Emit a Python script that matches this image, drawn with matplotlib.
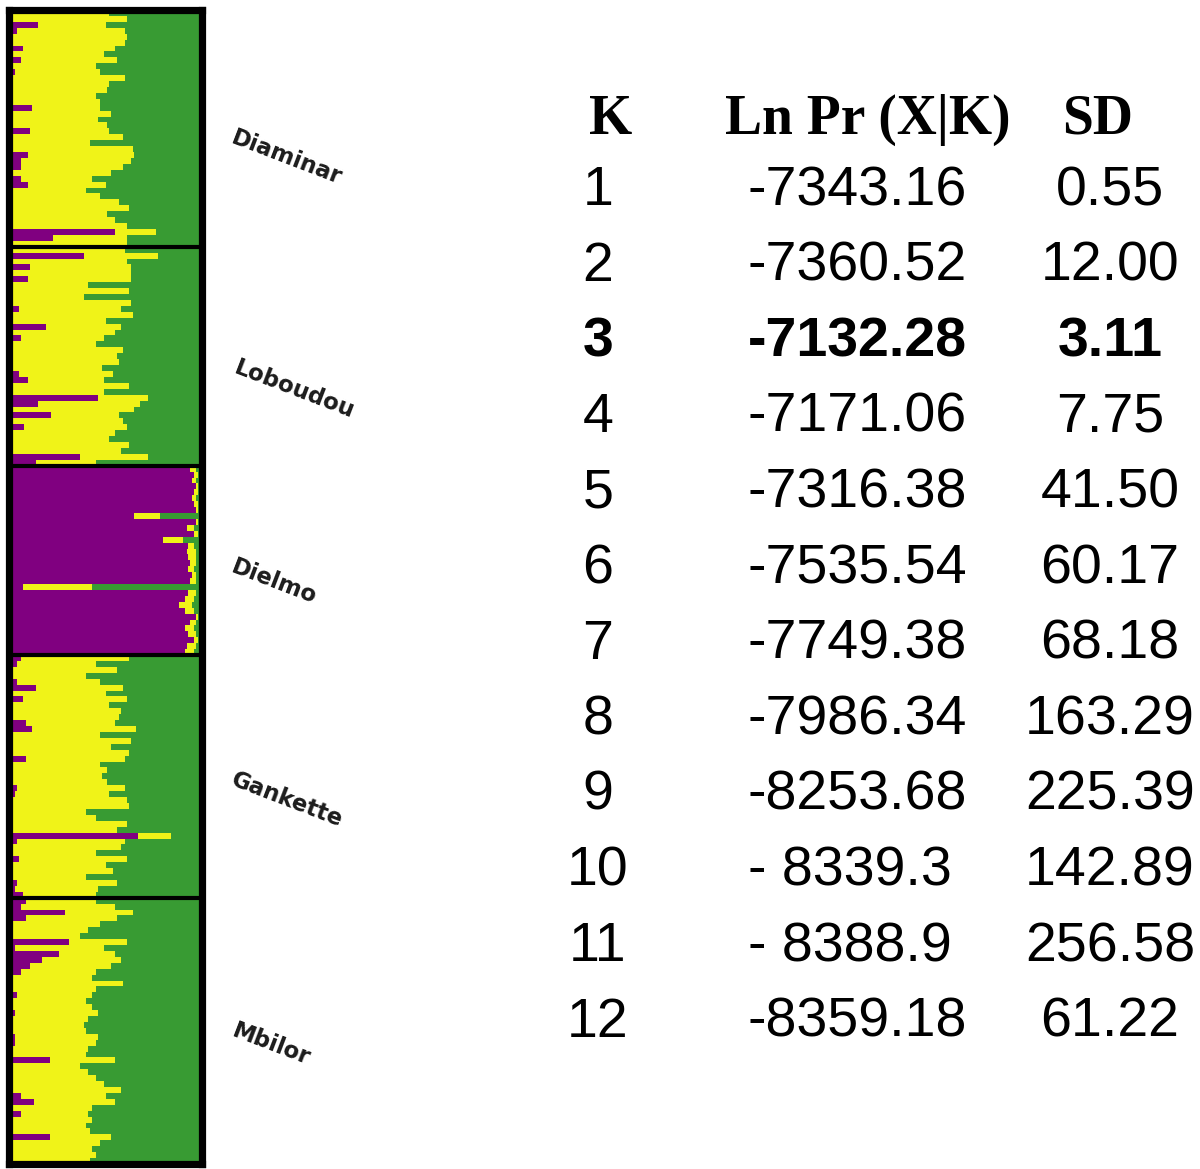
import matplotlib
matplotlib.use("Agg")
import matplotlib.pyplot as plt
import numpy as np

# ---------------- data ----------------
populations = ["Diaminar", "Loboudou", "Dielmo", "Gankette", "Mbilor"]

# membership (%) per individual: purple cluster, yellow cluster (green = remainder)
diaminar_purple = [0, 0, 15, 4, 1, 0, 7, 1, 6, 0, 3, 0, 0, 0, 0, 1, 12, 2, 2, 1,
                   11, 0, 0, 0, 10, 6, 6, 1, 6, 10, 0, 0, 0, 0, 2, 0, 0, 55, 23, 0]
diaminar_yellow = [52, 61, 35, 56, 60, 60, 48, 48, 50, 45, 44, 60, 52, 51, 45, 46, 35, 51, 44, 50,
                   41, 59, 42, 64, 55, 57, 53, 52, 37, 40, 40, 47, 57, 62, 49, 55, 61, 21, 38, 61]

loboudou_purple = [0, 39, 0, 11, 0, 10, 0, 0, 0, 0, 5, 1, 1, 19, 0, 6, 0, 0, 0, 0,
                   1, 5, 10, 1, 1, 46, 15, 0, 22, 0, 8, 1, 0, 1, 0, 37, 14]
loboudou_yellow = [60, 38, 61, 52, 63, 53, 41, 62, 39, 63, 53, 63, 49, 39, 55, 43, 45, 59, 56, 57,
                   47, 49, 39, 61, 48, 26, 53, 65, 35, 59, 53, 54, 52, 61, 58, 35, 31]

dielmo_purple = [94, 96, 95, 97, 96, 95, 96, 97, 65, 97, 92, 96, 80, 93, 92, 93, 94, 93, 95, 94,
                 7, 93, 91, 88, 91, 97, 94, 91, 93, 96, 92, 91]
dielmo_yellow = [3, 2, 2, 1, 2, 2, 2, 1, 13, 1, 4, 2, 10, 3, 5, 4, 3, 3, 2, 3,
                 36, 4, 5, 7, 5, 1, 3, 5, 4, 2, 5, 5]

gankette_purple = [6, 4, 1, 0, 4, 14, 1, 7, 0, 0, 0, 9, 12, 0, 2, 0, 1, 9, 0, 0,
                   0, 0, 4, 3, 1, 1, 0, 0, 0, 0, 67, 4, 2, 0, 5, 0, 2, 1, 4, 3, 7]
gankette_yellow = [56, 41, 55, 40, 43, 45, 49, 54, 52, 58, 57, 46, 54, 47, 61, 53, 61, 51, 47, 51,
                   48, 51, 56, 49, 60, 61, 40, 45, 61, 56, 17, 56, 56, 45, 56, 50, 52, 39, 52, 43, 38]

mbilor_purple = [9, 6, 29, 9, 0, 0, 0, 31, 3, 26, 17, 11, 6, 2, 0, 0, 4, 0, 0, 3,
                 0, 0, 0, 3, 3, 0, 0, 21, 0, 0, 0, 0, 0, 6, 13, 0, 6, 1, 1, 1, 21, 0, 1, 2, 2]
mbilor_yellow = [36, 49, 35, 47, 47, 41, 37, 30, 46, 29, 41, 42, 39, 41, 59, 45, 39, 40, 43, 43,
                 41, 39, 40, 43, 42, 41, 40, 34, 37, 41, 45, 49, 58, 44, 42, 43, 35, 42, 39, 41,
                 32, 47, 42, 43, 40]

# table
k_values = ["1", "2", "3", "4", "5", "6", "7", "8", "9", "10", "11", "12"]
ln_pr = ["-7343.16", "-7360.52", "-7132.28", "-7171.06", "-7316.38", "-7535.54",
         "-7749.38", "-7986.34", "-8253.68", "- 8339.3", "- 8388.9", "-8359.18"]
sd_values = ["0.55", "12.00", "3.11", "7.75", "41.50", "60.17",
             "68.18", "163.29", "225.39", "142.89", "256.58", "61.22"]
best_k = "3"
headers = ["K", "Ln Pr (X|K)", "SD"]

# ---------------- figure ----------------
W, H = 1200, 1169
fig = plt.figure(figsize=(W / 100, H / 100), dpi=100)
fig.patch.set_facecolor("white")

PURPLE = "#800080"
YELLOW = "#F0F318"
GREEN = "#389B33"

purple_all = np.array(diaminar_purple + loboudou_purple + dielmo_purple + gankette_purple + mbilor_purple, float)
yellow_all = np.array(diaminar_yellow + loboudou_yellow + dielmo_yellow + gankette_yellow + mbilor_yellow, float)
green_all = 100.0 - purple_all - yellow_all
sizes = [len(diaminar_purple), len(loboudou_purple), len(dielmo_purple),
         len(gankette_purple), len(mbilor_purple)]
n = len(purple_all)
idx = np.arange(n)

ax = fig.add_axes([9 / W, 1 - 1164 / H, 193 / W, 1154 / H])
ax.barh(idx, purple_all, height=1.0, color=PURPLE, linewidth=0, antialiased=False)
ax.barh(idx, yellow_all, left=purple_all, height=1.0, color=YELLOW, linewidth=0, antialiased=False)
ax.barh(idx, green_all, left=purple_all + yellow_all, height=1.0, color=GREEN, linewidth=0, antialiased=False)
ax.set_xlim(0, 100)
ax.set_ylim(n - 0.5, -0.5)
ax.set_xticks([])
ax.set_yticks([])
for s in ax.spines.values():
    s.set_linewidth(5.2)
    s.set_color("black")
bounds = np.cumsum(sizes)[:-1]
for b in bounds:
    ax.axhline(b - 0.5, color="black", lw=3)

# population labels
label_pos = [(287, 158), (294, 390), (274, 582), (287, 800), (271, 1045)]
for name, (x, y) in zip(populations, label_pos):
    fig.text(x / W, 1 - y / H, name, rotation=-21, ha="center", va="center",
             fontsize=16.5, fontweight="bold", color="#1c1c1c", family="DejaVu Sans")

# table header
header_x = [611, 868, 1098]
for h, x in zip(headers, header_x):
    fig.text(x / W, 1 - 134 / H, h, ha="center", va="baseline", fontsize=40,
             fontweight="bold", family="Liberation Serif", color="black")

# table rows
for i, (k, ln, sd) in enumerate(zip(k_values, ln_pr, sd_values)):
    yb = 1 - (205 + i * 75.6) / H
    w = "bold" if k == best_k else "normal"
    fig.text(598 / W, yb, k, ha="center", va="baseline", fontsize=40, fontweight=w,
             family="Liberation Sans", color="black")
    fig.text(748 / W, yb, ln, ha="left", va="baseline", fontsize=40, fontweight=w,
             family="Liberation Sans", color="black")
    fig.text(1110 / W, yb, sd, ha="center", va="baseline", fontsize=40, fontweight=w,
             family="Liberation Sans", color="black")

fig.savefig("out.png", dpi=100, facecolor="white")
